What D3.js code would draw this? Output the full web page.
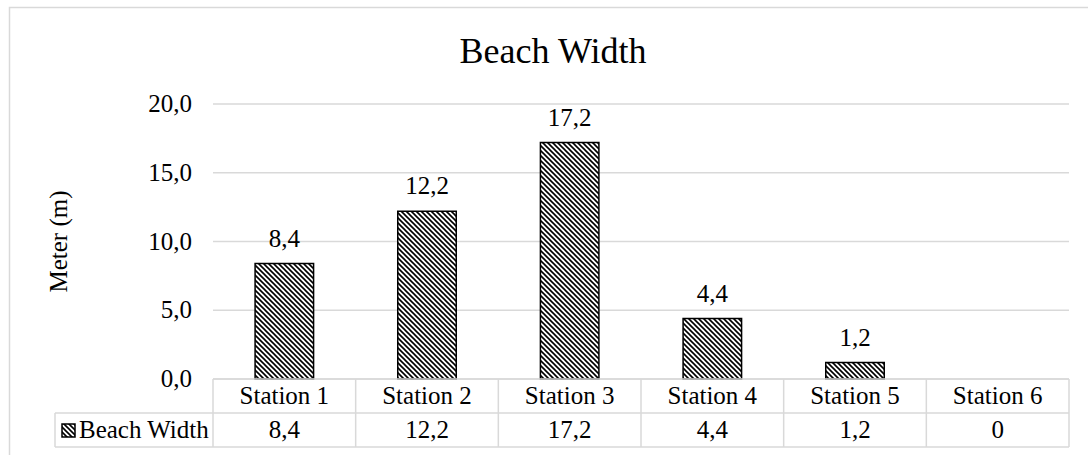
<!DOCTYPE html>
<html><head><meta charset="utf-8">
<script src="https://cdn.jsdelivr.net/npm/d3@7"></script>
<style>body{margin:0;background:#fff}svg{display:block}</style>
</head><body>
<svg id="c" width="1088" height="455"></svg>
<script>
const categories = ["Station 1","Station 2","Station 3","Station 4","Station 5","Station 6"];
const values = [8.4, 12.2, 17.2, 4.4, 1.2, 0];
const tableLabels = ["8,4","12,2","17,2","4,4","1,2","0"];
const yTicks = [0, 5, 10, 15, 20];
const seriesName = "Beach Width";
const chartTitle = "Beach Width";
const yTitle = "Meter (m)";

(function(){
const FONT = "'Liberation Serif', 'Times New Roman', serif";
const svg = d3.select("#c").style("font-family", FONT);
const W = 1088, H = 455;
const pLeft = 213, pRight = 1069, pTop = 104, pBottom = 379;
const rowH = 34, legendX = 55;
const grid = "#d9d9d9";
const fs = 25;
const fmt = v => d3.format(".1f")(v).replace(".", ",");
const rows = categories.map((c,i)=>({c, v: values[i], t: tableLabels[i]}));

const defs = svg.append("defs");
const pat = defs.append("pattern").attr("id","hatch").attr("patternUnits","userSpaceOnUse")
  .attr("width",5).attr("height",5);
pat.append("rect").attr("width",5).attr("height",5).attr("fill","#fff");
pat.append("path").attr("d","M0,0L5,5M-1,4L1,6M4,-1L6,1").attr("stroke","#000").attr("stroke-width",1.6);

// outer border
svg.append("rect").attr("x",9.5).attr("y",7.5).attr("width",W).attr("height",H)
  .attr("fill","none").attr("stroke",grid).attr("stroke-width",1.5);

const x = d3.scaleBand().domain(categories).range([pLeft,pRight]).paddingInner(0.59).paddingOuter(0.295);
const xb = d3.scaleBand().domain(categories).range([pLeft,pRight]);
const y = d3.scaleLinear().domain([0,20]).range([pBottom,pTop]);

// gridlines
svg.append("g").selectAll("line").data(yTicks).join("line")
  .attr("x1",pLeft).attr("x2",pRight).attr("y1",d=>y(d)).attr("y2",d=>y(d))
  .attr("stroke",grid).attr("stroke-width",1.5);

// bars
svg.append("g").selectAll("rect").data(rows.filter(r=>r.v>0)).join("rect")
  .attr("x",d=>x(d.c)).attr("width",x.bandwidth())
  .attr("y",d=>y(d.v)).attr("height",d=>y(0)-y(d.v))
  .attr("fill","url(#hatch)").attr("stroke","#000").attr("stroke-width",1.5);

// data table lines
const hl = (x1,x2,yy)=>svg.append("line").attr("x1",x1).attr("x2",x2).attr("y1",yy).attr("y2",yy).attr("stroke",grid).attr("stroke-width",1.5);
const vl = (xx,y1,y2)=>svg.append("line").attr("x1",xx).attr("x2",xx).attr("y1",y1).attr("y2",y2).attr("stroke",grid).attr("stroke-width",1.5);
hl(pLeft,pRight,pBottom);
hl(legendX,pRight,pBottom+rowH);
hl(legendX,pRight,pBottom+2*rowH);
vl(legendX,pBottom+rowH,pBottom+2*rowH);
categories.forEach(c=>vl(xb(c),pBottom,pBottom+2*rowH));
vl(pRight,pBottom,pBottom+2*rowH);

// legend key
svg.append("rect").attr("x",62).attr("y",424).attr("width",13).attr("height",13)
  .attr("fill","url(#hatch)").attr("stroke","#000").attr("stroke-width",1.5);

function label(xx, yy, str, anchor, size, rot){
  return svg.append("text")
    .attr("transform",`translate(${xx},${yy})` + (rot ? ` rotate(${rot})` : ""))
    .attr("text-anchor",anchor||"start")
    .style("font-family",FONT).style("font-size",size+"px")
    .attr("fill","#000").text(str);
}

// y tick labels (positions from the y scale)
yTicks.forEach(t=>label(pLeft-21, y(t)+8, fmt(t), "end", fs));

// data labels
rows.filter(r=>r.v>0).forEach(d=>label(xb(d.c)+xb.bandwidth()/2, y(d.v)-17, fmt(d.v), "middle", fs));

// table text
rows.forEach(d=>{
  label(xb(d.c)+xb.bandwidth()/2, pBottom+rowH/2+8, d.c, "middle", fs);
  label(xb(d.c)+xb.bandwidth()/2, pBottom+rowH*1.5+8, d.t, "middle", fs);
});
label(79, pBottom+rowH*1.5+8, seriesName, "start", fs);

// titles
label(553, 63, chartTitle, "middle", 36);
label(67, (pTop+pBottom)/2, yTitle, "middle", 25, -90);
})();
</script>
</body></html>
